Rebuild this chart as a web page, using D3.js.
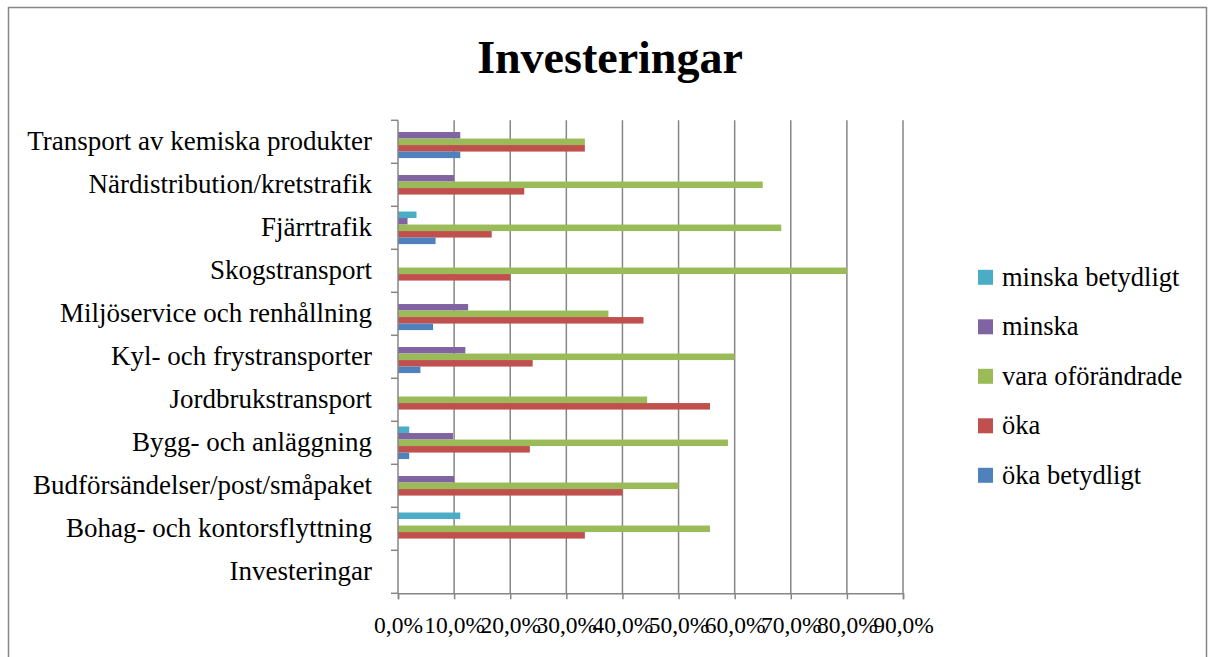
<!DOCTYPE html>
<html>
<head>
<meta charset="utf-8">
<script src="https://cdn.jsdelivr.net/npm/d3@7"></script>
<style>
  body { margin: 0; background: #fff; }
  svg { display: block; font-family: "Liberation Serif", "Times New Roman", serif; }
  .axis path, .axis line { stroke: #868686; }
  .grid line { stroke: #868686; stroke-width: 1.5; }
  .axis text { font-family: "Liberation Serif", serif; font-size: 23.5px; fill: #000; }
</style>
</head>
<body>
<svg id="chart" width="1208" height="657"></svg>
<script>
// Categories, top to bottom as shown
const categories = [
    'Transport av kemiska produkter',
    'Närdistribution/kretstrafik',
    'Fjärrtrafik',
    'Skogstransport',
    'Miljöservice och renhållning',
    'Kyl- och frystransporter',
    'Jordbrukstransport',
    'Bygg- och anläggning',
    'Budförsändelser/post/småpaket',
    'Bohag- och kontorsflyttning',
    'Investeringar'
];

// Series (percent), aligned with categories
const minskaBetydligt = [0, 0, 3.3, 0, 0, 0, 0, 2.0, 0, 11.1, 0];
const minska          = [11.1, 10, 1.7, 0, 12.5, 12, 0, 9.8, 10, 0, 0];
const varaOforandrade = [33.3, 65, 68.3, 80, 37.5, 60, 44.4, 58.8, 50, 55.6, 0];
const oka             = [33.3, 22.5, 16.7, 20, 43.75, 24, 55.6, 23.5, 40, 33.3, 0];
const okaBetydligt    = [11.1, 0, 6.7, 0, 6.25, 4, 0, 2.0, 0, 0, 0];

const xTicks = [0, 10, 20, 30, 40, 50, 60, 70, 80, 90];

// Series top-to-bottom within each group (same order as legend)
const series = [
    { name: 'minska betydligt', values: minskaBetydligt, color: '#4BACC6' },
    { name: 'minska', values: minska, color: '#8064A2' },
    { name: 'vara oförändrade', values: varaOforandrade, color: '#9BBB59' },
    { name: 'öka', values: oka, color: '#C0504D' },
    { name: 'öka betydligt', values: okaBetydligt, color: '#4F81BD' }
];

const svg = d3.select('#chart');

// Outer chart border
svg.append('rect')
    .attr('x', 8.5).attr('y', 7.5)
    .attr('width', 1198).attr('height', 700)
    .attr('fill', '#fff')
    .attr('stroke', '#868686')
    .attr('stroke-width', 1.5);

// Title
svg.append('text')
    .attr('x', 610).attr('y', 73)
    .attr('text-anchor', 'middle')
    .style('font-size', '46px')
    .style('font-weight', 'bold')
    .text('Investeringar');

// Plot area
const plot = { left: 398, right: 903, top: 120.3, bottom: 593.3 };

const x = d3.scaleLinear().domain([0, 90]).range([plot.left, plot.right]);
const y = d3.scaleBand().domain(categories).range([plot.top, plot.bottom]);
const y1 = d3.scaleBand()
    .domain(series.map(s => s.name))
    .range([0, y.bandwidth()])
    .paddingInner(0)
    .paddingOuter(0.8);

// Vertical gridlines
svg.append('g').attr('class', 'grid')
    .selectAll('line')
    .data(xTicks.slice(1))
    .join('line')
    .attr('x1', d => x(d)).attr('x2', d => x(d))
    .attr('y1', plot.top).attr('y2', plot.bottom);

// Bars
const groups = svg.append('g')
    .selectAll('g')
    .data(categories)
    .join('g')
    .attr('transform', c => `translate(0,${y(c)})`);

groups.selectAll('rect')
    .data((c, i) => series.map(s => ({ name: s.name, color: s.color, value: s.values[i] })))
    .join('rect')
    .filter(d => d.value > 0)
    .attr('x', x(0))
    .attr('y', d => y1(d.name))
    .attr('width', d => x(d.value) - x(0))
    .attr('height', y1.bandwidth())
    .attr('fill', d => d.color);

// X axis
const xAxis = svg.append('g').attr('class', 'axis')
    .attr('transform', `translate(0,${plot.bottom})`)
    .call(d3.axisBottom(x).tickValues(xTicks).tickSize(6).tickPadding(0)
        .tickFormat(d => d3.format('.1f')(d).replace('.', ',') + '%'));
xAxis.attr('font-family', null).attr('font-size', null);
xAxis.select('.domain').attr('stroke-width', 1.5);
xAxis.selectAll('line').attr('stroke-width', 1.5);
xAxis.selectAll('text')
    .attr('y', 40).attr('dy', 0);

// Y axis: line and ticks at category boundaries
const yAxis = svg.append('g').attr('class', 'axis');
yAxis.append('line')
    .attr('x1', plot.left).attr('x2', plot.left)
    .attr('y1', plot.top).attr('y2', plot.bottom)
    .attr('stroke-width', 1.5);
const boundaries = categories.map(c => y(c)).concat([plot.bottom]);
yAxis.selectAll('line.tick')
    .data(boundaries)
    .join('line')
    .attr('class', 'tick')
    .attr('x1', plot.left - 7).attr('x2', plot.left)
    .attr('y1', d => d).attr('y2', d => d)
    .attr('stroke-width', 1.5);

// Category labels
svg.append('g')
    .selectAll('text')
    .data(categories)
    .join('text')
    .attr('x', 372)
    .attr('y', c => y(c) + y.bandwidth() / 2)
    .attr('dy', '0.31em')
    .attr('text-anchor', 'end')
    .style('font-size', '27px')
    .text(c => c);

// Legend
const legend = svg.append('g')
    .selectAll('g')
    .data(series)
    .join('g')
    .attr('transform', (d, i) => `translate(978,${277.3 + i * 49.5})`);

legend.append('rect')
    .attr('x', 0).attr('y', -7.5)
    .attr('width', 15).attr('height', 15)
    .attr('fill', d => d.color);

legend.append('text')
    .attr('x', 24).attr('y', 0)
    .attr('dy', '0.31em')
    .style('font-size', '26.5px')
    .text(d => d.name);
</script>
</body>
</html>
